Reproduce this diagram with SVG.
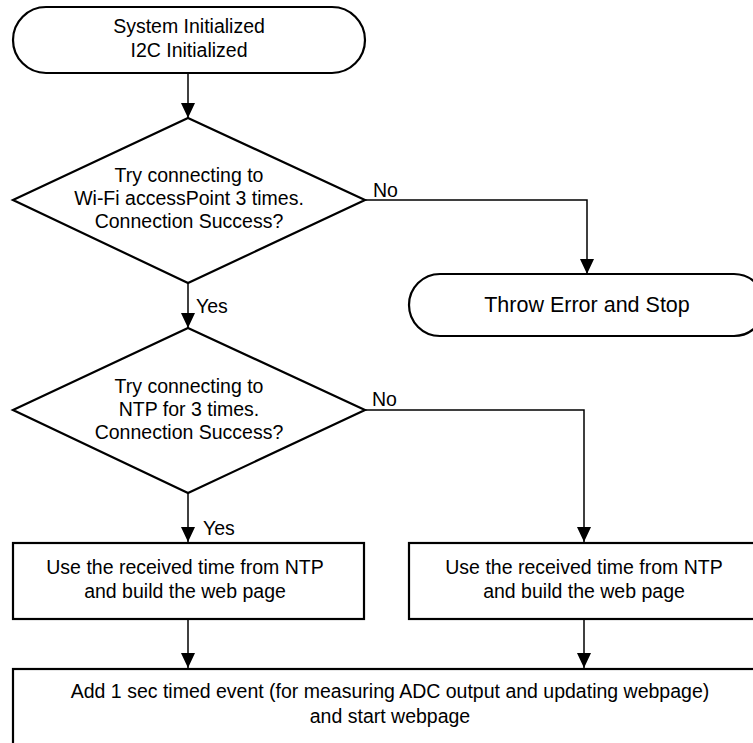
<svg xmlns="http://www.w3.org/2000/svg" width="753" height="743" viewBox="0 0 753 743">
<style>
.shape{fill:#fff;stroke:#000;stroke-width:2.2}
.conn{fill:none;stroke:#000;stroke-width:1.5}
text{font-family:"Liberation Sans",Arial,sans-serif;font-size:19.5px;fill:#000}
.c{text-anchor:middle}
.big{font-size:21.5px}
</style>
<defs>
<marker id="arr" markerUnits="userSpaceOnUse" markerWidth="16" markerHeight="15" refX="15" refY="7" orient="auto">
<path d="M0,0 L15,7 L0,14 z" fill="#000"/>
</marker>
</defs>
<rect width="753" height="743" fill="#fff"/>
<g id="connectors">
<line class="conn" x1="188" y1="73" x2="188" y2="118" marker-end="url(#arr)"/>
<polyline class="conn" points="365,200 587,200 587,274" marker-end="url(#arr)"/>
<line class="conn" x1="188" y1="283" x2="188" y2="328" marker-end="url(#arr)"/>
<polyline class="conn" points="365,410 584,410 584,542" marker-end="url(#arr)"/>
<line class="conn" x1="188" y1="493" x2="188" y2="542" marker-end="url(#arr)"/>
<line class="conn" x1="188" y1="619" x2="188" y2="668" marker-end="url(#arr)"/>
<line class="conn" x1="584" y1="619" x2="584" y2="668" marker-end="url(#arr)"/>
<text x="373" y="197">No</text>
<text x="196" y="313">Yes</text>
<text x="372" y="406">No</text>
<text x="203" y="535">Yes</text>
</g>
<g id="start">
<rect class="shape" x="13" y="7" width="352" height="66" rx="33" ry="33"/>
<text class="c" x="189" y="33">System Initialized</text>
<text class="c" x="189" y="57">I2C Initialized</text>
</g>
<g id="wifi">
<polygon class="shape" points="188,118 365,200 188,283 13,200"/>
<text class="c" x="189" y="182">Try connecting to</text>
<text class="c" x="189" y="205">Wi-Fi accessPoint 3 times.</text>
<text class="c" x="189" y="228">Connection Success?</text>
</g>
<g id="error">
<rect class="shape" x="409" y="274" width="356" height="62" rx="31" ry="31"/>
<text class="c big" x="587" y="312">Throw Error and Stop</text>
</g>
<g id="ntp">
<polygon class="shape" points="188,328 365,410 188,493 13,410"/>
<text class="c" x="189" y="393">Try connecting to</text>
<text class="c" x="189" y="416">NTP for 3 times.</text>
<text class="c" x="189" y="439">Connection Success?</text>
</g>
<g id="build-left">
<rect class="shape" x="13" y="543" width="351" height="76"/>
<text class="c" x="185" y="574">Use the received time from NTP</text>
<text class="c" x="185" y="598">and build the web page</text>
</g>
<g id="build-right">
<rect class="shape" x="409" y="543" width="360" height="76"/>
<text class="c" x="584" y="574">Use the received time from NTP</text>
<text class="c" x="584" y="598">and build the web page</text>
</g>
<g id="timer">
<rect class="shape" x="13" y="669" width="760" height="90"/>
<text class="c" x="390" y="698">Add 1 sec timed event (for measuring ADC output and updating webpage)</text>
<text class="c" x="390" y="723">and start webpage</text>
</g>
</svg>
